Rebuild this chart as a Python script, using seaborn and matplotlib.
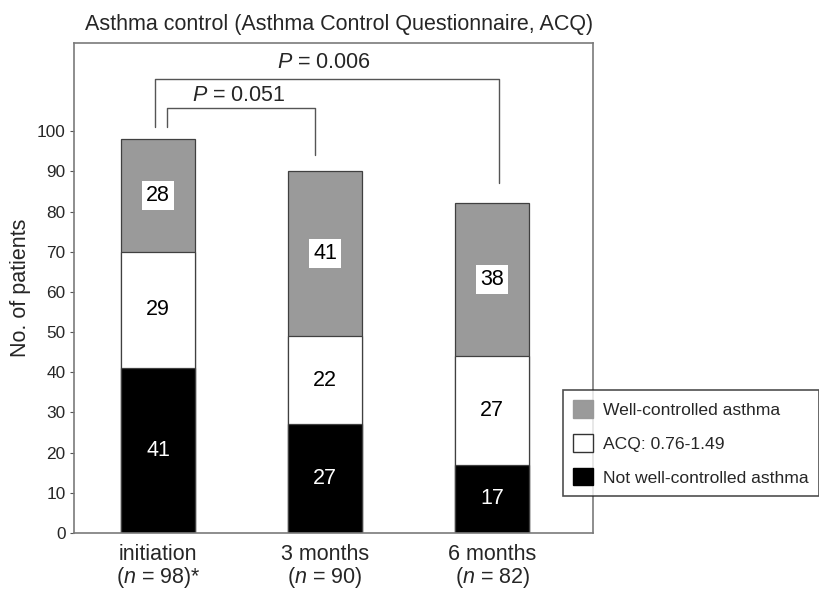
import numpy as np
import pandas as pd
import matplotlib
matplotlib.use("Agg")
import matplotlib.pyplot as plt
from matplotlib.patches import Patch
import seaborn as sns

# values
timepoints = ["initiation\n($\\it{n}$ = 98)*", "3 months\n($\\it{n}$ = 90)", "6 months\n($\\it{n}$ = 82)"]
not_well = [41, 27, 17]
acq_mid = [29, 22, 27]
well = [28, 41, 38]
legend_labels = ["Well-controlled asthma", "ACQ: 0.76-1.49", "Not well-controlled asthma"]

sns.set_style("white")
plt.rcParams['font.family'] = ['Liberation Sans', 'DejaVu Sans']
plt.rcParams['mathtext.fontset'] = 'custom'
plt.rcParams['mathtext.it'] = 'Liberation Sans:italic'
plt.rcParams['mathtext.rm'] = 'Liberation Sans'

df = pd.DataFrame({"time": timepoints, "black": not_well, "white": acq_mid, "grey": well})
df["mid_top"] = df["black"] + df["white"]
df["total"] = df["mid_top"] + df["grey"]

fig = plt.figure(figsize=(8.19, 5.9), dpi=100)
ax = fig.add_axes([0.0904, 0.0966, 0.634, 0.831])

grey_c = "#9a9a9a"
edge = "#404040"
sns.barplot(data=df, x="time", y="total", color=grey_c, saturation=1, width=0.44,
            edgecolor=edge, linewidth=0.9, ax=ax)
sns.barplot(data=df, x="time", y="mid_top", color="white", saturation=1, width=0.44,
            edgecolor=edge, linewidth=0.9, ax=ax)
sns.barplot(data=df, x="time", y="black", color="black", saturation=1, width=0.44,
            edgecolor=edge, linewidth=0.9, ax=ax)

# segment labels
fs = 15.5
for i, row in df.iterrows():
    ax.text(i, row["black"] / 2, str(row["black"]), ha="center", va="center",
            color="white", fontsize=fs)
    ax.text(i, row["black"] + row["white"] / 2, str(row["white"]), ha="center", va="center",
            color="black", fontsize=fs)
    ax.text(i, row["mid_top"] + row["grey"] / 2, str(row["grey"]), ha="center", va="center",
            color="black", fontsize=fs,
            bbox=dict(facecolor="white", edgecolor="none", pad=3))

# significance brackets
br = "#555555"
ax.plot([-0.02, -0.02, 2.04, 2.04], [101, 113, 113, 87], color=br, lw=1.0, clip_on=False)
ax.plot([0.054, 0.054, 0.94, 0.94], [101, 105.7, 105.7, 94], color=br, lw=1.0, clip_on=False)
ax.text(0.99, 117, "$\\it{P}$ = 0.006", ha="center", va="center", fontsize=fs)
ax.text(0.485, 108.9, "$\\it{P}$ = 0.051", ha="center", va="center", fontsize=fs)

ax.set_xlim(-0.503, 2.605)
ax.set_ylim(0, 122)
ax.set_yticks(np.arange(0, 101, 10))
ax.tick_params(axis="y", labelsize=12.4, length=3, width=0.8, color="#555555", direction="out", left=True, pad=3)
ax.tick_params(axis="x", labelsize=fs, length=0, pad=8)
for t in ax.get_xticklabels():
    t.set_linespacing(1.0)
ax.set_xlabel("")
ax.set_ylabel("No. of patients", fontsize=fs, labelpad=4)
for s in ax.spines.values():
    s.set_color("#7a7a7a")
    s.set_linewidth(1.2)

fig.text(0.414, 0.958, "Asthma control (Asthma Control Questionnaire, ACQ)",
         ha="center", va="center", fontsize=fs)

handles = [Patch(facecolor=grey_c, edgecolor="#999999"),
           Patch(facecolor="white", edgecolor="#333333"),
           Patch(facecolor="black", edgecolor="black")]
leg = fig.legend(handles, legend_labels, loc="upper left", bbox_to_anchor=(0.687, 0.339),
                 frameon=True, fancybox=False, edgecolor="#222222", fontsize=12.6,
                 handlelength=1.15, handleheight=1.15, handletextpad=0.55,
                 borderpad=0.6, labelspacing=0.92, borderaxespad=0)
leg.get_frame().set_linewidth(1.2)

fig.savefig("out.png", dpi=100)
